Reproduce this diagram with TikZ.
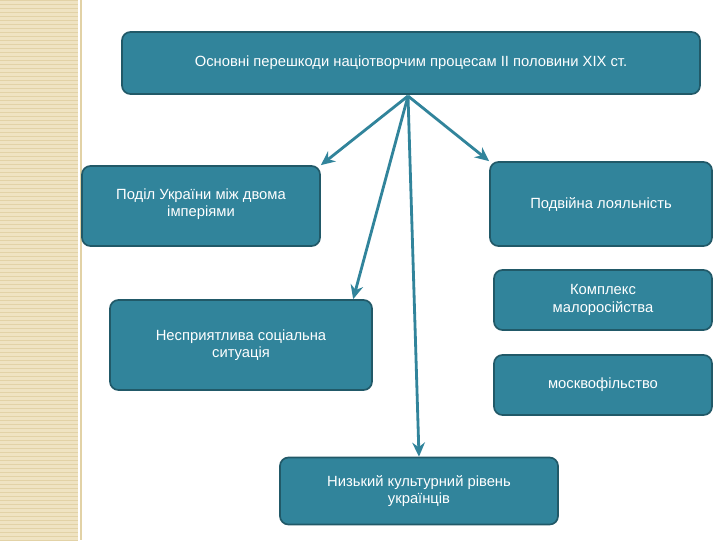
\documentclass[tikz,border=0pt]{standalone}
\usepackage{fontspec}
\setmainfont{Liberation Sans}
\usetikzlibrary{arrows.meta}
\definecolor{boxfill}{HTML}{31849B}
\definecolor{boxline}{HTML}{215968}
\definecolor{strip}{HTML}{EFE3C2}
\definecolor{stripline}{HTML}{E2D2A6}
\tikzset{
  pbox/.style={draw=boxline, line width=1.2pt, fill=boxfill, rounded corners=6pt, text=white, align=center, font=\fontsize{10.5}{12.5}\selectfont, inner sep=0pt},
  parrow/.style={draw=boxfill, line width=2pt, -{Stealth[length=10pt,width=9pt]}}
}
\begin{document}
\begin{tikzpicture}[x=0.025cm,y=-0.025cm]
\useasboundingbox (0,0) rectangle (720,540);
\fill[white] (0,0) rectangle (720,540);
\fill[strip] (0,0) rectangle (78,540);
\foreach \i in {0,4,...,540} \draw[stripline, line width=0.3pt] (0,\i) -- (78,\i);
\draw[stripline, line width=0.8pt] (81,0) -- (81,540);
\node[pbox, minimum width=578*0.025cm, minimum height=62*0.025cm] (top) at (411,63) {Основні перешкоди націотворчим процесам II половини XIX ст.};
\node[pbox, minimum width=238*0.025cm, minimum height=80*0.025cm, text depth=0pt] (a) at (201,206) {\raisebox{12pt}{\begin{tabular}{@{}c@{}}Поділ України між двома\\імперіями\end{tabular}}};
\node[pbox, minimum width=222*0.025cm, minimum height=84*0.025cm] (b) at (601,204) {Подвійна лояльність};
\node[pbox, minimum width=262*0.025cm, minimum height=90*0.025cm] (c) at (241,345) {Несприятлива соціальна\\ситуація};
\node[pbox, minimum width=218*0.025cm, minimum height=60*0.025cm] (d) at (603,300) {Комплекс\\малоросійства};
\node[pbox, minimum width=218*0.025cm, minimum height=60*0.025cm] (e) at (603,385) {москвофільство};
\node[pbox, minimum width=278*0.025cm, minimum height=67*0.025cm] (f) at (419,491) {Низький культурний рівень\\українців};
\coordinate (o) at (408,96);
\draw[parrow] (o) -- (a.north east);
\draw[parrow] (o) -- (b.north west);
\draw[parrow] (o) -- ([xshift=-14pt]c.north east);
\draw[parrow] (o) -- (f.north);
\end{tikzpicture}
\end{document}
